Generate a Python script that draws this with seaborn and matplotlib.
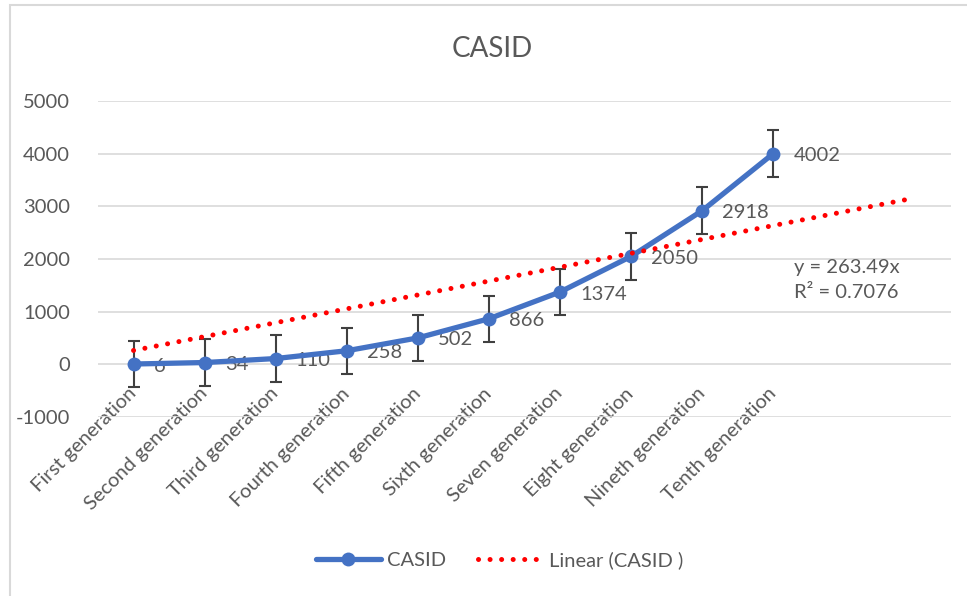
import numpy as np
import pandas as pd
import matplotlib
matplotlib.use("Agg")
import matplotlib.pyplot as plt
import seaborn as sns
from matplotlib.patches import Rectangle

categories = ["First generation", "Second generation", "Third generation", "Fourth generation",
              "Fifth generation", "Sixth generation", "Seven generation", "Eight generation",
              "Nineth generation", "Tenth generation"]
casid_values = [6, 34, 110, 258, 502, 866, 1374, 2050, 2918, 4002]
error_values = [440, 440, 440, 440, 440, 440, 440, 440, 440, 440]
trend_slope = 263.49
trend_r2 = 0.7076
trend_forward_periods = 2
y_ticks = [-1000, 0, 1000, 2000, 3000, 4000, 5000]

sns.set_theme(style="white")
plt.rcParams['font.family'] = ['Lato', 'DejaVu Sans']

TXT = "#595959"
BLUE = "#4472C4"
FS = 14.5

fig = plt.figure(figsize=(9.67, 5.96), dpi=100)
ax = fig.add_axes([98/967, 1 - 417/596, (951-98)/967, (417-101)/596])

df = pd.DataFrame({"pos": np.arange(len(categories)), "CASID": casid_values,
                   "category": categories})

# error bars
ax.errorbar(df["pos"], df["CASID"], yerr=error_values, fmt="none",
            ecolor="#404040", elinewidth=1.5, capsize=4.5, capthick=1.5, zorder=3)

sns.lineplot(data=df, x="pos", y="CASID", ax=ax, color=BLUE, linewidth=3.8,
             marker="o", markersize=10, markeredgewidth=0, label="CASID", zorder=4)

# linear trendline (intercept 0), Excel x = 1..n+forward
n_trend = len(categories) + trend_forward_periods
trend_x = np.arange(1, n_trend + 1)
trend_df = pd.DataFrame({"pos": trend_x - 1, "y": trend_slope * trend_x})
sns.lineplot(data=trend_df, x="pos", y="y", ax=ax, color="#FF0000", linewidth=3.6,
             linestyle=(0, (0.01, 2.3)), label="Linear (CASID )", zorder=5)
for l in ax.get_lines():
    l.set_dash_capstyle("round")
    l.set_solid_capstyle("round")

# data labels
for p, v in zip(df["pos"], casid_values):
    ax.annotate(str(v), (p, v), xytext=(14.5, -1.5), textcoords="offset points",
                ha="left", va="center", fontsize=FS, color=TXT)

# equation
ax.annotate(f"y = {trend_slope}x\nR² = {trend_r2}", (9, 2000),
            xytext=(15, -15), textcoords="offset points", ha="left", va="center",
            fontsize=FS, color=TXT, linespacing=1.55)

ax.spines["bottom"].set_position(("data", 0))
ax.set_xlim(-0.5, 11.5)
ax.set_ylim(-1000, 5000)
ax.set_yticks(y_ticks)
ax.set_yticklabels([str(t) for t in y_ticks], fontsize=FS, color=TXT)
ax.tick_params(axis="y", length=0, pad=20)
ax.yaxis.grid(True, color="#D9D9D9", linewidth=1.2)
ax.xaxis.grid(False)

ax.set_xticks(df["pos"])
ax.set_xticklabels(categories, rotation=45, ha="right", va="center",
                   rotation_mode="anchor", fontsize=FS, color=TXT)
ax.tick_params(axis="x", length=0, pad=19)
for s in ax.spines.values():
    s.set_visible(False)
ax.set_xlabel("")
ax.set_ylabel("")

fig.text(492/967, 1 - 49/596, "CASID", ha="center", va="center", fontsize=20, color=TXT)

ax.legend(loc="center", bbox_to_anchor=(0.5 + 16/967, 1 - 560/596), bbox_transform=fig.transFigure,
          ncol=2, frameon=False, fontsize=FS, labelcolor=TXT, handlelength=3.2,
          columnspacing=1.6, handletextpad=0.3)

fig.patches.append(Rectangle((10/967, -0.1), 1.2, 1 - 5/596 + 0.1, transform=fig.transFigure,
                             fill=False, edgecolor="#D9D9D9", linewidth=1.5))

fig.savefig("out.png", dpi=100, facecolor="white")
